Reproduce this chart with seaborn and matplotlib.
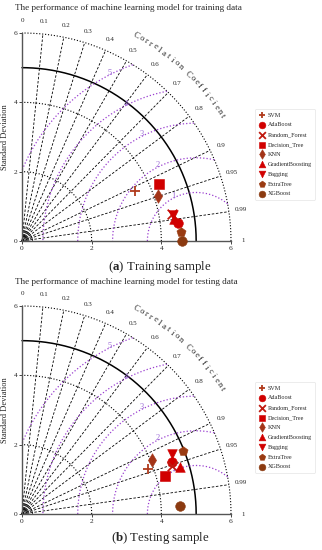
import numpy as np
import pandas as pd
import matplotlib
matplotlib.use('Agg')
import matplotlib.pyplot as plt
import seaborn as sns

# ---- data ----
models = ["SVM", "AdaBoost", "Random_Forest", "Decision_Tree", "KNN",
          "GradientBoosting", "Bagging", "ExtraTree", "XGBoost"]
train_std = [3.56, 4.51, 4.39, 4.27, 4.12, 4.42, 4.41, 4.56, 4.60]
train_corr = [0.913, 0.993, 0.984, 0.924, 0.950, 0.990, 0.985, 0.9985, 1.0]
test_std = [3.83, 4.57, 4.53, 4.25, 4.05, 4.72, 4.63, 4.96, 4.55]
test_corr = [0.942, 0.945, 0.953, 0.967, 0.924, 0.958, 0.927, 0.930, 0.9986]

ref_std = 5.0
std_ticks = [0, 2, 4, 6]
std_arcs = [2, 4, 6]
corr_lines = [0.1, 0.2, 0.3, 0.4, 0.5, 0.6, 0.7, 0.8, 0.9, 0.95, 0.99]
corr_labels = [0, 0.1, 0.2, 0.3, 0.4, 0.5, 0.6, 0.7, 0.8, 0.9, 0.95, 0.99, 1]
rms_radii = [1.4, 2.4, 3.4, 4.4, 5.4]
rms_labels = ["1", "2", "3", "4", "5"]

markers = {"SVM": "+", "AdaBoost": "o", "Random_Forest": "x", "Decision_Tree": "s",
           "KNN": "d", "GradientBoosting": "^", "Bagging": "v", "ExtraTree": "p",
           "XGBoost": "o"}
colors = {"SVM": "#b03a1c", "AdaBoost": "#d10000", "Random_Forest": "#c01a10",
          "Decision_Tree": "#d10000", "KNN": "#a33418", "GradientBoosting": "#d10000",
          "Bagging": "#d10000", "ExtraTree": "#9a3b12", "XGBoost": "#8b3a10"}

sns.set_style("white")
plt.rcParams['font.family'] = ['Liberation Serif', 'DejaVu Serif']
plt.rcParams['mathtext.fontset'] = 'custom'
plt.rcParams['mathtext.bf'] = 'Liberation Serif:bold'

W, H = 322, 550
fig = plt.figure(figsize=(W / 100, H / 100), dpi=100)


def panel(ox, oy, std, corr, title, cap_tag, cap_txt, cap_y, title_y):
    ax = fig.add_axes([ox / W, 1 - oy / H, 209 / W, 208 / H])
    ax.set_xlim(0, 6)
    ax.set_ylim(0, 6)
    t = np.linspace(0, np.pi / 2, 300)

    # standard deviation arcs
    for r in std_arcs:
        ax.plot(r * np.cos(t), r * np.sin(t), color='black', ls=':', lw=0.8, clip_on=False)
    ax.plot(ref_std * np.cos(t), ref_std * np.sin(t), color='black', lw=1.1, clip_on=False)

    # correlation lines
    for c in corr_lines:
        a = np.arccos(c)
        ax.plot([0, 6 * np.cos(a)], [0, 6 * np.sin(a)], color='black', ls=(0, (3, 2)),
                lw=0.6, clip_on=False)
    for r in [0.1, 0.2, 0.3]:
        ax.plot(r * np.cos(t), r * np.sin(t), color='black', lw=0.5)

    # centred RMS contours
    tt = np.linspace(0, np.pi, 600)
    for r, lab in zip(rms_radii, rms_labels):
        x = ref_std + r * np.cos(tt)
        y = r * np.sin(tt)
        m = (x ** 2 + y ** 2 <= 36) & (x >= 0)
        ax.plot(np.where(m, x, np.nan), np.where(m, y, np.nan), color='#9a3fd0',
                ls=':', lw=0.9, clip_on=False)
        la = np.deg2rad(117)
        ax.text(ref_std + (r + 0.05) * np.cos(la), (r + 0.05) * np.sin(la), lab,
                color='#9a6ad6', fontsize=6, ha='center', va='center')

    # correlation tick labels
    for c in corr_labels:
        a = np.arccos(c)
        ax.text(6.35 * np.cos(a), 6.35 * np.sin(a), f"{c:g}", fontsize=5,
                ha='center', va='center', clip_on=False)

    # curved axis title
    word = "Correlation Coefficient"
    angs = np.linspace(61, 32, len(word))
    for ch, ang in zip(word, angs):
        a = np.deg2rad(ang)
        ax.text(6.78 * np.cos(a), 6.78 * np.sin(a), ch, fontsize=6.2,
                rotation=ang - 90, ha='center', va='center', clip_on=False)

    # model points
    df = pd.DataFrame({"model": models, "std": std, "corr": corr})
    df["x"] = df["std"] * df["corr"]
    df["y"] = df["std"] * np.sin(np.arccos(df["corr"].clip(upper=1.0)))
    for name in models:
        sub = df[df["model"] == name]
        mk = markers[name]
        if mk in ("+", "x"):
            sns.scatterplot(data=sub, x="x", y="y", marker=mk, color=colors[name], s=48,
                            linewidth=1.3, ax=ax, label=name, zorder=5, clip_on=False)
        else:
            sns.scatterplot(data=sub, x="x", y="y", marker=mk, color=colors[name], s=48,
                            edgecolor=colors[name], linewidth=0.4, ax=ax, label=name,
                            zorder=5, clip_on=False)

    leg = ax.legend(loc='upper left', bbox_to_anchor=(1.1, 0.648), fontsize=4.4,
                    frameon=True, handletextpad=0.4, labelspacing=0.75,
                    borderpad=0.5, markerscale=0.7, handlelength=1.2)
    leg.get_frame().set_edgecolor('#dddddd')
    leg.get_frame().set_linewidth(0.5)

    for s in ['top', 'right']:
        ax.spines[s].set_visible(False)
    for s in ['left', 'bottom']:
        ax.spines[s].set_color('#555555')
        ax.spines[s].set_linewidth(1.0)
    ax.set_xticks(std_ticks)
    ax.set_yticks(std_ticks)
    ax.tick_params(labelsize=5.3, length=2, width=0.6, pad=1.5, left=True, bottom=True)
    ax.set_xlabel("")
    ax.set_ylabel("Standard Deviation", fontsize=6, labelpad=3)

    fig.text(15 / W, 1 - title_y / H, title, fontsize=6.6, ha='left', va='center')
    fig.text(160 / W, 1 - cap_y / H, "(" + r"$\mathbf{" + cap_tag + "}$" + ") " + cap_txt,
             fontsize=9.3, ha='center', va='center')
    return ax


panel(22, 241, train_std, train_corr,
      "The performance of machine learning model for training data",
      "a", "Training sample", 267, 8)
panel(22, 514, test_std, test_corr,
      "The performance of machine learning model for testing data",
      "b", "Testing sample", 538, 282)

fig.savefig("out.png", dpi=100)
